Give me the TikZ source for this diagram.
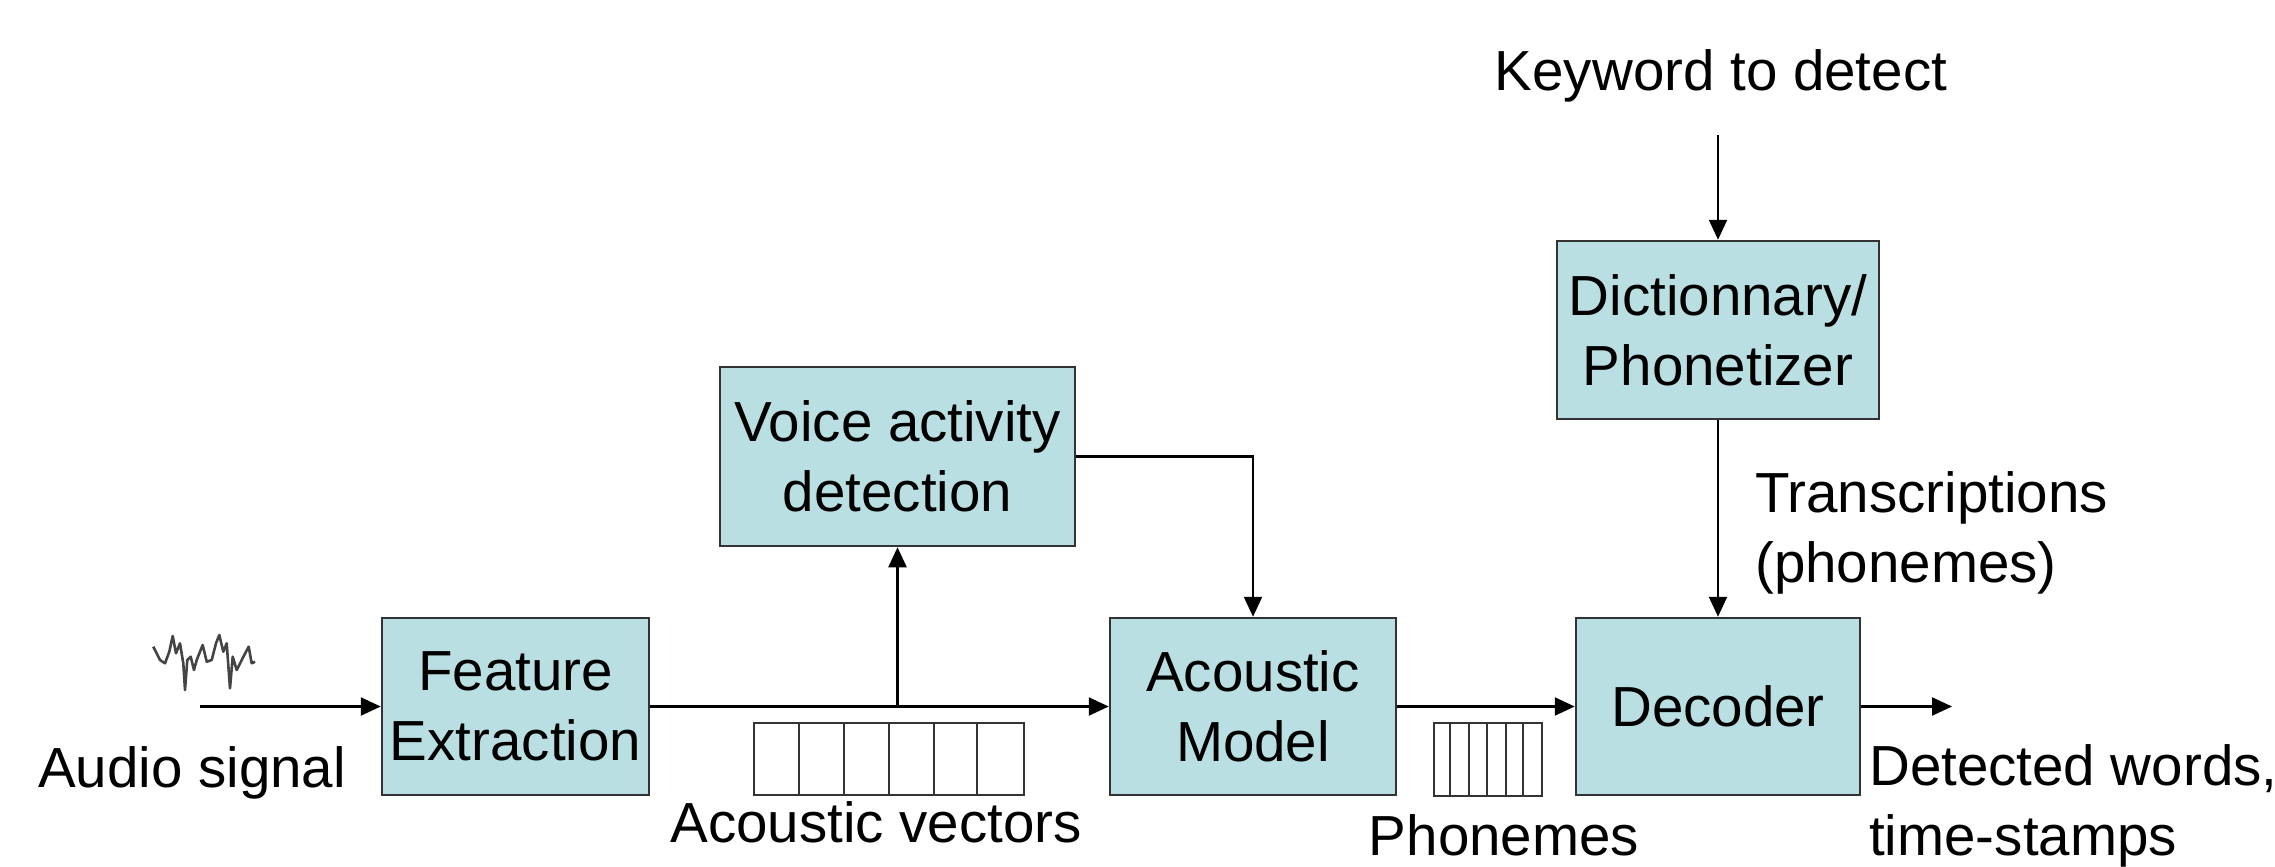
\documentclass[tikz,border=0pt]{standalone}
\usepackage{fontspec}
\setmainfont{Liberation Sans}
\usetikzlibrary{arrows.meta}
\definecolor{boxfill}{HTML}{B9DFE2}
\definecolor{boxline}{HTML}{333333}
\definecolor{wave}{HTML}{444444}
\begin{document}
\begin{tikzpicture}[x=1pt,y=-1pt,
  every node/.style={font=\fontsize{56.5}{70}\selectfont},
  block/.style={draw=boxline, fill=boxfill, line width=2.5pt, inner sep=0pt, align=center},
  conn/.style={line width=2.2pt, -{Triangle[length=20pt,width=18pt]}},
  cell/.style={draw=boxline, fill=white, line width=2pt},
  lbl/.style={inner sep=0pt, anchor=base west, align=left}]
\useasboundingbox (0,0) rectangle (2275,867);

% blocks
\node[block, minimum width=267pt, minimum height=177pt] (FE) at (515.5,706.5) {Feature\\Extraction};
\node[block, minimum width=355pt, minimum height=179pt] (VAD) at (897.5,456.5) {Voice activity\\detection};
\node[block, minimum width=286pt, minimum height=177pt] (AM) at (1253,706.5) {Acoustic\\Model};
\node[block, minimum width=284pt, minimum height=177pt] (DEC) at (1718,706.5) {Decoder};
\node[block, minimum width=322pt, minimum height=178pt] (DICT) at (1718,330) {Dictionnary/\\Phonetizer};

% labels (base = baseline of the last line)
\node[lbl] (audio) at (38,787) {Audio signal};
\node[lbl, anchor=base] (av) at (876,842) {Acoustic vectors};
\node[lbl, anchor=base] (ph) at (1504,855) {Phonemes};
\node[lbl, anchor=base] (kw) at (1721,90) {Keyword to detect};
\node[lbl] (tr) at (1755,582) {Transcriptions\\(phonemes)};
\node[lbl] (dw) at (1869,855) {Detected words,\\time-stamps};

% waveform
\draw[wave, line width=2.6pt, line join=round]
  (153.3,646.7) -- (160,660) -- (165,663.3) -- (169.3,651.7) -- (172.7,636) -- (176,653.3)
  -- (180,643.3) -- (183.3,663.3) -- (185,690) -- (187.3,660) -- (190.7,656.7) -- (194,670)
  -- (196.7,660) -- (200,651.7) -- (202.7,645) -- (206.7,661.7) -- (211.7,660) -- (216,643.3)
  -- (219.3,635) -- (223.3,651.7) -- (226.7,643.3) -- (230,688.3) -- (232.7,656.7)
  -- (236.7,670) -- (241.7,660) -- (246,651.7) -- (248.7,646.7) -- (251.7,663.3) -- (255,661.7);

% coordinates for free ends
\coordinate (ain) at (200,706.5);
\coordinate (br) at (897.5,706.5);
\coordinate (out) at (1952,706.5);
\coordinate (kwa) at (1718,135);

% connectors
\draw[conn] (ain) -- (FE.west);
\draw[conn] (FE.east) -- (AM.west);
\draw[conn] (br) -- (VAD.south);
\draw[conn] (VAD.east) -| (AM.north);
\draw[conn] (AM.east) -- (DEC.west);
\draw[conn] (DEC.east) -- (out);
\draw[conn] (kwa) -- (DICT.north);
\draw[conn] (DICT.south) -- (DEC.north);

% acoustic vectors
\draw[cell] (754,723) rectangle (1024,795);
\foreach \x in {799,844,889,934,977} \draw[boxline, line width=2pt] (\x,723) -- (\x,795);
% phonemes
\draw[cell] (1434,723) rectangle (1542,796);
\foreach \x in {1450,1469,1487,1506,1523} \draw[boxline, line width=2pt] (\x,723) -- (\x,796);
\end{tikzpicture}
\end{document}
